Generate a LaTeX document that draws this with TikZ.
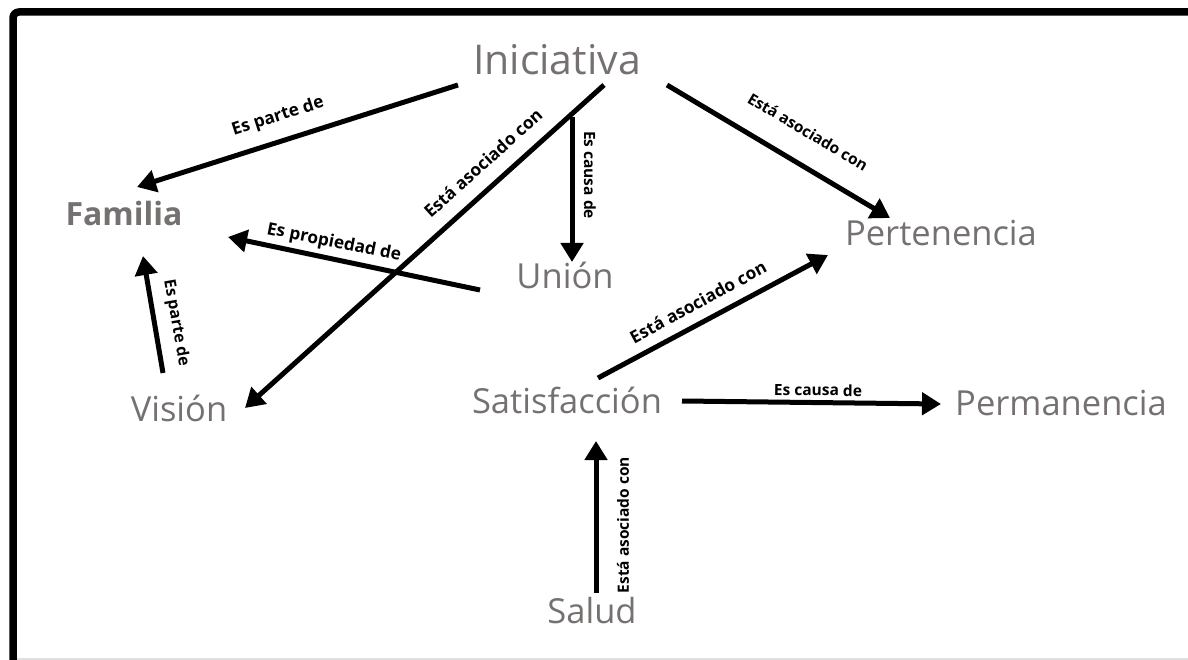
\documentclass[tikz,border=0pt]{standalone}
\usepackage{fontspec}
\setmainfont{Open Sans}
\usetikzlibrary{arrows.meta}
\definecolor{txtgray}{RGB}{118,113,113}
\definecolor{framegray}{RGB}{225,225,225}
\tikzset{
  concept/.style={anchor=base, inner sep=0pt, text=txtgray, font=\fontsize{34.5}{38}\selectfont},
  bigconcept/.style={concept, font=\fontsize{41}{45}\selectfont},
  boldconcept/.style={concept, font=\fontsize{32}{36}\selectfont\bfseries},
  rel/.style={line width=5pt, -{Triangle[length=19pt,width=22pt]}},
  lbl/.style={inner sep=0pt, text=black, font=\fontsize{15.5}{17}\selectfont\bfseries},
  biglbl/.style={lbl, font=\fontsize{17.3}{19}\selectfont\bfseries},
}
\begin{document}
\begin{tikzpicture}[x=1pt, y=-1pt]
\useasboundingbox (0,0) rectangle (1188,660);
% frame
\draw[framegray, line width=1.5pt] (17,659) -- (1188,659);
\draw[line width=7.5pt, rounded corners=6pt] (13,680) -- (13,12) -- (1200,12);

% concepts
\node[bigconcept] (ini) at (557,75) {Iniciativa};
\node[boldconcept] (fam) at (124,226) {Familia};
\node[concept] (per) at (941,246) {Pertenencia};
\node[concept] (uni) at (565,288) {Unión};
\node[concept] (sat) at (567,413) {Satisfacción};
\node[concept] (perm) at (1061,415) {Permanencia};
\node[concept] (vis) at (179,421) {Visión};
\node[concept] (sal) at (592,623) {Salud};

% connector end points
\coordinate (ini-fam-s) at (458,85);  \coordinate (ini-fam-e) at (137,187);
\coordinate (ini-vis-s) at (604,85);  \coordinate (ini-vis-e) at (245,408);
\coordinate (ini-uni-s) at (572,117); \coordinate (ini-uni-e) at (572,262);
\coordinate (ini-per-s) at (667,85);  \coordinate (ini-per-e) at (890,218);
\coordinate (uni-fam-s) at (480,290); \coordinate (uni-fam-e) at (228,237);
\coordinate (vis-fam-s) at (163,373); \coordinate (vis-fam-e) at (143,256);
\coordinate (sat-per-s) at (598,378); \coordinate (sat-per-e) at (828,255);
\coordinate (sat-perm-s) at (682,401); \coordinate (sat-perm-e) at (941,404);
\coordinate (sal-sat-s) at (596,593); \coordinate (sal-sat-e) at (596,441);

% connectors
\draw[rel] (ini-fam-s) -- (ini-fam-e);
\draw[rel] (ini-vis-s) -- (ini-vis-e);
\draw[rel] (ini-uni-s) -- (ini-uni-e);
\draw[rel] (ini-per-s) -- (ini-per-e);
\draw[rel] (uni-fam-s) -- (uni-fam-e);
\draw[rel] (vis-fam-s) -- (vis-fam-e);
\draw[rel] (sat-per-s) -- (sat-per-e);
\draw[rel] (sat-perm-s) -- (sat-perm-e);
\draw[rel] (sal-sat-s) -- (sal-sat-e);

% labels
\node[biglbl, rotate=17.8] (l1) at (278,117) {Es parte de};
\node[biglbl, rotate=42] (l2) at (483,163) {Está asociado con};
\node[lbl, rotate=-90] (l3) at (590,175) {Es causa de};
\node[lbl, rotate=-30.8] (l4) at (808,132) {Está asociado con};
\node[biglbl, rotate=-11.3] (l5) at (334,243) {Es propiedad de};
\node[lbl, font=\fontsize{16}{18}\selectfont\bfseries, rotate=-80] (l6) at (176,323) {Es parte de};
\node[biglbl, rotate=28.5] (l7) at (698,302) {Está asociado con};
\node[lbl, rotate=-0.7] (l8) at (818,390) {Es causa de};
\node[lbl, rotate=90] (l9) at (623,525) {Está asociado con};
\end{tikzpicture}
\end{document}
